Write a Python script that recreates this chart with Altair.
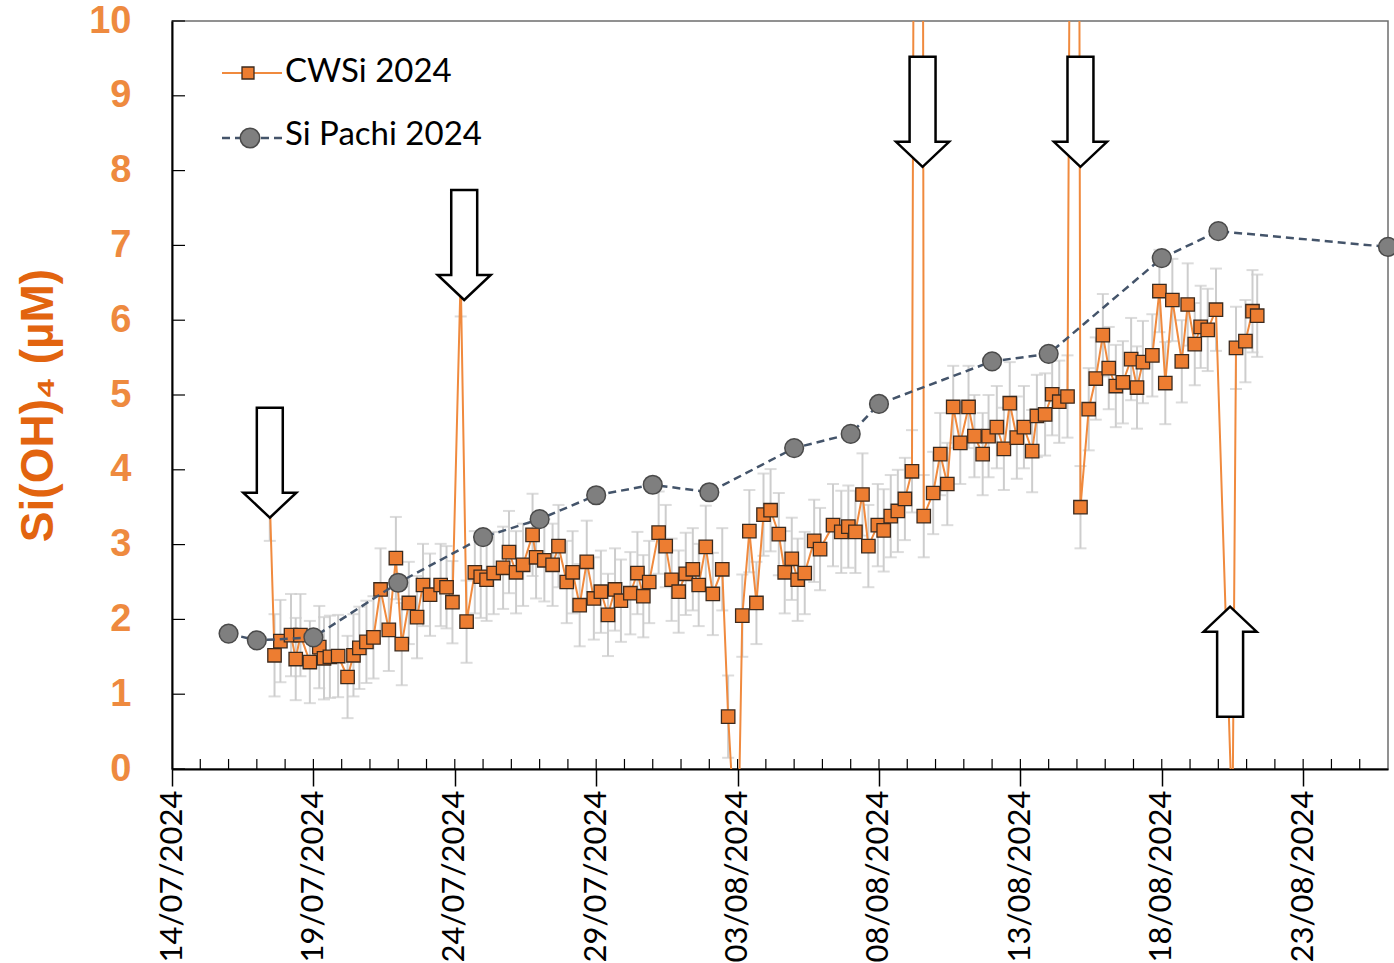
import altair as alt
import pandas as pd

# ---- CWSi 2024 sampling times (local time) and dissolved silicate (uM) ----
cwsi_time = [
    "2024-07-17 11:00", "2024-07-17 15:00", "2024-07-17 20:00",
    "2024-07-18 05:00", "2024-07-18 09:00", "2024-07-18 13:00", "2024-07-18 21:00",
    "2024-07-19 05:00", "2024-07-19 09:00", "2024-07-19 14:00", "2024-07-19 21:00",
    "2024-07-20 05:00", "2024-07-20 10:00", "2024-07-20 15:00", "2024-07-20 21:00",
    "2024-07-21 03:00", "2024-07-21 09:00", "2024-07-21 16:00", "2024-07-21 22:00",
    "2024-07-22 03:00", "2024-07-22 09:00", "2024-07-22 16:00", "2024-07-22 21:00",
    "2024-07-23 03:00", "2024-07-23 12:00", "2024-07-23 17:00", "2024-07-23 22:00",
    "2024-07-24 05:00", "2024-07-24 10:00", "2024-07-24 17:00", "2024-07-24 22:00",
    "2024-07-25 03:00", "2024-07-25 09:00", "2024-07-25 17:00", "2024-07-25 22:00",
    "2024-07-26 04:00", "2024-07-26 10:00", "2024-07-26 18:00", "2024-07-26 21:00",
    "2024-07-27 04:00", "2024-07-27 11:00", "2024-07-27 16:00", "2024-07-27 23:00",
    "2024-07-28 04:00", "2024-07-28 10:00", "2024-07-28 16:00", "2024-07-28 22:00",
    "2024-07-29 04:00", "2024-07-29 10:00", "2024-07-29 16:00", "2024-07-29 21:00",
    "2024-07-30 05:00", "2024-07-30 11:00", "2024-07-30 16:00", "2024-07-30 21:00",
    "2024-07-31 05:00", "2024-07-31 11:00", "2024-07-31 16:00", "2024-07-31 22:00",
    "2024-08-01 04:00", "2024-08-01 10:00", "2024-08-01 15:00", "2024-08-01 21:00",
    "2024-08-02 03:00", "2024-08-02 11:00", "2024-08-02 16:00",
    "2024-08-03 00:00", "2024-08-03 04:00", "2024-08-03 10:00", "2024-08-03 16:00", "2024-08-03 22:00",
    "2024-08-04 04:00", "2024-08-04 11:00", "2024-08-04 16:00", "2024-08-04 22:00",
    "2024-08-05 03:00", "2024-08-05 09:00", "2024-08-05 17:00", "2024-08-05 22:00",
    "2024-08-06 09:00", "2024-08-06 16:00", "2024-08-06 22:00",
    "2024-08-07 04:00", "2024-08-07 10:00", "2024-08-07 15:00", "2024-08-07 23:00",
    "2024-08-08 04:00", "2024-08-08 10:00", "2024-08-08 16:00", "2024-08-08 22:00",
    "2024-08-09 04:00", "2024-08-09 11:00", "2024-08-09 14:00", "2024-08-09 22:00",
    "2024-08-10 04:00", "2024-08-10 10:00", "2024-08-10 15:00", "2024-08-10 21:00",
    "2024-08-11 04:00", "2024-08-11 09:00", "2024-08-11 16:00", "2024-08-11 21:00",
    "2024-08-12 04:00", "2024-08-12 10:00", "2024-08-12 15:00", "2024-08-12 21:00",
    "2024-08-13 03:00", "2024-08-13 10:00", "2024-08-13 14:00", "2024-08-13 21:00",
    "2024-08-14 03:00", "2024-08-14 09:00", "2024-08-14 16:00", "2024-08-14 23:30",
    "2024-08-15 03:00", "2024-08-15 10:00", "2024-08-15 16:00", "2024-08-15 22:00",
    "2024-08-16 03:00", "2024-08-16 09:00", "2024-08-16 15:00", "2024-08-16 22:00",
    "2024-08-17 03:00", "2024-08-17 08:00", "2024-08-17 16:00", "2024-08-17 22:00",
    "2024-08-18 03:00", "2024-08-18 09:00", "2024-08-18 17:00", "2024-08-18 22:00",
    "2024-08-19 04:00", "2024-08-19 09:00", "2024-08-19 15:00", "2024-08-19 22:00",
    "2024-08-20 12:00", "2024-08-20 15:00", "2024-08-20 23:00",
    "2024-08-21 05:00", "2024-08-21 09:00",
]
cwsi_value = [
    3.60, 1.52, 1.71,
    1.79, 1.47, 1.79, 1.43,
    1.63, 1.48, 1.50, 1.51,
    1.23, 1.52, 1.62, 1.70,
    1.76, 2.40, 1.86, 2.82,
    1.67, 2.22, 2.03, 2.46,
    2.33, 2.46, 2.43, 2.23,
    6.60, 1.97, 2.63, 2.57,
    2.53, 2.62, 2.69, 2.90,
    2.63, 2.73, 3.13, 2.83,
    2.79, 2.73, 2.98, 2.50,
    2.63, 2.19, 2.77, 2.28,
    2.37, 2.06, 2.40, 2.25,
    2.35, 2.62, 2.31, 2.50,
    3.16, 2.98, 2.53, 2.37,
    2.61, 2.67, 2.46, 2.97,
    2.34, 2.67, 0.70,
    -1.50, 2.05, 3.18, 2.22, 3.40,
    3.46, 3.14, 2.63, 2.81,
    2.53, 2.62, 3.05, 2.94,
    3.26, 3.17, 3.24,
    3.17, 3.67, 2.98, 3.26,
    3.19, 3.38, 3.45, 3.61,
    3.98, 40.0, 3.38, 3.69,
    4.21, 3.81, 4.84, 4.36,
    4.84, 4.45, 4.21, 4.45,
    4.57, 4.28, 4.89, 4.43,
    4.57, 4.25, 4.72, 4.74,
    5.01, 4.91, 4.98, 30.0,
    3.50, 4.81, 5.22, 5.80,
    5.36, 5.12, 5.17, 5.48,
    5.10, 5.44, 5.53, 6.39,
    5.16, 6.27, 5.45, 6.21,
    5.68, 5.91, 5.87, 6.14,
    -0.80, 5.63, 5.72,
    6.12, 6.06,
]
cwsi_sd = 0.55  # analytical uncertainty (+/-)

# ---- Si Pachi 2024 discrete samples ----
pachi_time = [
    "2024-07-16 00:00", "2024-07-17 00:00", "2024-07-19 00:00", "2024-07-22 00:00",
    "2024-07-25 00:00", "2024-07-27 00:00", "2024-07-29 00:00", "2024-07-31 00:00",
    "2024-08-02 00:00", "2024-08-05 00:00", "2024-08-07 00:00", "2024-08-08 00:00",
    "2024-08-12 00:00", "2024-08-14 00:00", "2024-08-18 00:00", "2024-08-20 00:00",
    "2024-08-26 00:00",
]
pachi_value = [1.81, 1.72, 1.76, 2.49, 3.10, 3.34, 3.66, 3.80,
               3.70, 4.29, 4.48, 4.88, 5.45, 5.55, 6.83, 7.19, 6.98]

# ---- flagged samples (arrow tips) ----
arrow_time = ["2024-07-17 11:00", "2024-07-24 08:00", "2024-08-09 13:00",
              "2024-08-15 03:00", "2024-08-20 10:00"]
arrow_value = [3.36, 6.27, 8.05, 8.05, 2.17]
arrow_dir = ["down", "down", "down", "down", "up"]

legend_labels = ["CWSi 2024", "Si Pachi 2024"]
y_ticks = [0, 1, 2, 3, 4, 5, 6, 7, 8, 9, 10]
Y_TITLE = "Si(OH)\u2084 (\u00b5M)"

# ---- styling ----
PLOT_W, PLOT_H = 1216, 748
ORANGE = "#ED7D31"
LINE_ORANGE = "#F08A3E"
ERR_GREY = "#CDCDCD"
PACHI_GREY = "#7F7F7F"
DASH_BLUE = "#44546A"
LABEL_ORANGE = "#EE8A3F"
TITLE_ORANGE = "#E2640F"

# block arrows, tip at the anchor point; units scale by sqrt(size)/2
DOWN_PATH = "M0,0 L-0.482,-0.455 L-0.236,-0.455 L-0.236,-2 L0.236,-2 L0.236,-0.455 L0.482,-0.455 Z"
UP_PATH = "M0,0 L-0.482,0.455 L-0.236,0.455 L-0.236,2 L0.236,2 L0.236,0.455 L0.482,0.455 Z"

cw = pd.DataFrame({"t": cwsi_time, "v": cwsi_value})
cw["lo"] = cw["v"] - cwsi_sd
cw["hi"] = cw["v"] + cwsi_sd
pa = pd.DataFrame({"t": pachi_time, "v": pachi_value})
ar = pd.DataFrame({"t": arrow_time, "v": arrow_value, "dir": arrow_dir})

major_days = pd.date_range("2024-07-14", "2024-08-23", freq="5D")
minor_days = pd.date_range("2024-07-15", "2024-08-25", freq="D")
days_df = pd.DataFrame({"t": minor_days.strftime("%Y-%m-%d %H:%M")})
ytick_df = pd.DataFrame({"v": y_ticks})
one_row = pd.DataFrame({"k": [0]})

x_scale = alt.Scale(domain=[alt.DateTime(year=2024, month=7, date=14),
                            alt.DateTime(year=2024, month=8, date=26)])
y_scale = alt.Scale(domain=[0, 10], nice=False, zero=False)

x_axis = alt.Axis(
    values=[alt.DateTime(year=d.year, month=d.month, date=d.day) for d in major_days],
    format="%d/%m/%Y", labelAngle=-90, labelFont="Lato", labelFontSize=31,
    labelColor="black", labelPadding=4, labelFlush=False, labelOverlap=False,
    tickSize=17, tickColor="black", tickWidth=1.5,
    domainColor="black", domainWidth=2, grid=False,
)
y_axis = alt.Axis(
    values=y_ticks, labelFont="Liberation Sans", labelFontWeight="bold",
    labelFontSize=38, labelColor=LABEL_ORANGE, labelPadding=41, labelFlush=False,
    ticks=False, tickSize=0, domainColor="black", domainWidth=2, grid=False,
    titleFont="Liberation Sans", titleFontSize=46, titleFontWeight="bold",
    titleColor=TITLE_ORANGE, titleX=-120, titleY=384, titleAngle=270,
    titleAlign="center", titleBaseline="alphabetic",
)


def X(field="t"):
    return alt.X(f"{field}:T", scale=x_scale, axis=x_axis, title=None)


def Y(field="v"):
    return alt.Y(f"{field}:Q", scale=y_scale, axis=y_axis, title=Y_TITLE)


# inward daily ticks on the time axis and inward ticks on the value axis
minor_ticks = alt.Chart(days_df).mark_rule(color="black", strokeWidth=1.2).encode(
    x=X(), y=alt.value(PLOT_H), y2=alt.value(PLOT_H - 10))
value_ticks = alt.Chart(ytick_df).mark_rule(color="black", strokeWidth=1.2).encode(
    x=alt.value(0), x2=alt.value(13), y=Y())

# CWSi error bars, line and markers
err_bar = alt.Chart(cw).mark_rule(color=ERR_GREY, strokeWidth=2, clip=True).encode(
    x=X(), y=Y("lo"), y2="hi")
cap_lo = alt.Chart(cw).mark_tick(color=ERR_GREY, size=12, thickness=2,
                                 orient="horizontal", clip=True).encode(x=X(), y=Y("lo"))
cap_hi = alt.Chart(cw).mark_tick(color=ERR_GREY, size=12, thickness=2,
                                 orient="horizontal", clip=True).encode(x=X(), y=Y("hi"))
cw_line = alt.Chart(cw).mark_line(color=LINE_ORANGE, strokeWidth=2, clip=True).encode(
    x=X(), y=Y())
cw_pts = alt.Chart(cw).mark_point(shape="square", filled=True, color=ORANGE,
                                  stroke="#3b2a1e", strokeWidth=1.3, size=180,
                                  opacity=1, clip=True).encode(x=X(), y=Y())

# Si Pachi dashed series
pa_line = alt.Chart(pa).mark_line(color=DASH_BLUE, strokeWidth=2.5,
                                  strokeDash=[8, 5]).encode(x=X(), y=Y())
pa_pts = alt.Chart(pa).mark_point(shape="circle", filled=True, color=PACHI_GREY,
                                  stroke="#4a4a4a", strokeWidth=1.5, size=350,
                                  opacity=1).encode(x=X(), y=Y())

# block arrows marking flagged samples
arrows = alt.Chart(ar).mark_point(filled=True, fill="white", stroke="black",
                                  strokeWidth=2.5, size=12100, opacity=1).encode(
    x=X(), y=Y(),
    shape=alt.Shape("dir:N", scale=alt.Scale(domain=["down", "up"],
                                             range=[DOWN_PATH, UP_PATH]), legend=None),
)

# legend drawn inside the plot, upper left
leg_line1 = alt.Chart(one_row).mark_rule(color=LINE_ORANGE, strokeWidth=2).encode(
    x=alt.value(50), x2=alt.value(110), y=alt.value(52))
leg_pt1 = alt.Chart(one_row).mark_point(shape="square", filled=True, color=ORANGE,
                                        stroke="#3b2a1e", strokeWidth=1.3, size=144,
                                        opacity=1).encode(x=alt.value(76), y=alt.value(52))
leg_txt1 = alt.Chart(one_row).mark_text(align="left", baseline="alphabetic", font="Lato",
                                        fontSize=33, color="black").encode(
    x=alt.value(113), y=alt.value(61), text=alt.value(legend_labels[0]))
leg_line2 = alt.Chart(one_row).mark_rule(color=DASH_BLUE, strokeWidth=2.5,
                                         strokeDash=[8, 5]).encode(
    x=alt.value(50), x2=alt.value(110), y=alt.value(117))
leg_pt2 = alt.Chart(one_row).mark_point(shape="circle", filled=True, color=PACHI_GREY,
                                        stroke="#4a4a4a", strokeWidth=1.5, size=380,
                                        opacity=1).encode(x=alt.value(78), y=alt.value(117))
leg_txt2 = alt.Chart(one_row).mark_text(align="left", baseline="alphabetic", font="Lato",
                                        fontSize=33, color="black").encode(
    x=alt.value(113), y=alt.value(124), text=alt.value(legend_labels[1]))

chart = alt.layer(
    minor_ticks, err_bar, cap_lo, cap_hi, cw_line, cw_pts, pa_line, pa_pts, arrows,
    leg_line1, leg_pt1, leg_txt1, leg_line2, leg_pt2, leg_txt2, value_ticks,
).properties(
    width=PLOT_W, height=PLOT_H,
    autosize=alt.AutoSizeParams(type="none"),
    padding={"left": 172, "top": 21, "right": 6, "bottom": 194},
    background="white",
).configure_view(stroke="#6e6e6e", strokeWidth=1.5)

chart.save("out.html", embed_options={"renderer": "svg", "actions": False})
